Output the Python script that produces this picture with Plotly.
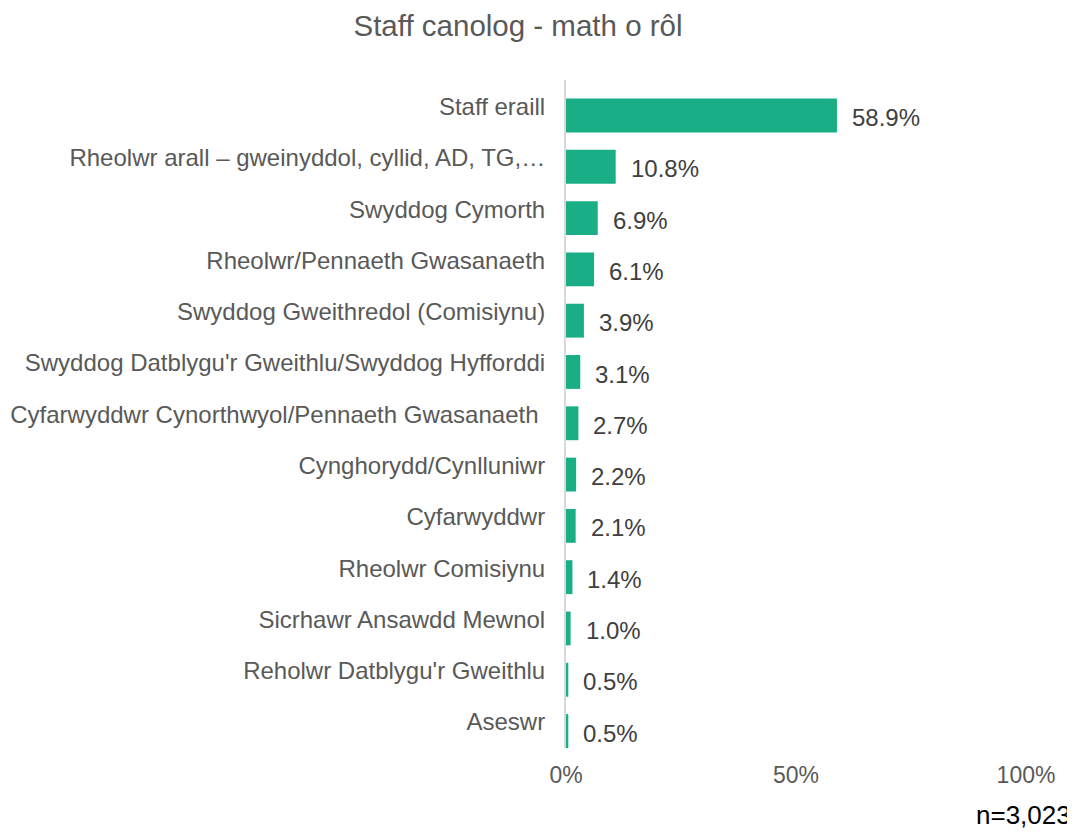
import plotly.graph_objects as go

categories = [
    "Staff eraill",
    "Rheolwr arall – gweinyddol, cyllid, AD, TG,…",
    "Swyddog Cymorth",
    "Rheolwr/Pennaeth Gwasanaeth",
    "Swyddog Gweithredol (Comisiynu)",
    "Swyddog Datblygu'r Gweithlu/Swyddog Hyfforddi",
    "Cyfarwyddwr Cynorthwyol/Pennaeth Gwasanaeth ",
    "Cynghorydd/Cynlluniwr",
    "Cyfarwyddwr",
    "Rheolwr Comisiynu",
    "Sicrhawr Ansawdd Mewnol",
    "Reholwr Datblygu'r Gweithlu",
    "Aseswr",
]
values = [58.9, 10.8, 6.9, 6.1, 3.9, 3.1, 2.7, 2.2, 2.1, 1.4, 1.0, 0.5, 0.5]
x_ticks = [0, 50, 100]
x_tick_labels = ["0%", "50%", "100%"]
title_text = "Staff canolog - math o rôl"
note_text = "n=3,023"

FONT = "Liberation Sans, Arial, sans-serif"
BAR = "#19AE85"

fig = go.Figure()
fig.add_trace(go.Bar(
    y=categories, x=values, orientation="h",
    marker=dict(color=BAR, line=dict(width=0)),
    width=0.66, offset=-0.155,
    hoverinfo="skip",
))

for c, v in zip(categories, values):
    fig.add_annotation(
        x=v, y=c, xref="x", yref="y", text=f"{v:.1f}%",
        showarrow=False, xanchor="left", yanchor="middle",
        xshift=13, yshift=-11,
        font=dict(family=FONT, size=24, color="#404040"),
    )

fig.add_annotation(
    x=1.0, y=0.0, xref="paper", yref="paper", xanchor="right", yanchor="bottom",
    text=note_text, showarrow=False,
    font=dict(family=FONT, size=26, color="#000000"),
    xshift=47, yshift=-84,
)

fig.update_layout(
    width=1067, height=826,
    margin=dict(l=558, r=49, t=72, b=86, autoexpand=False),
    paper_bgcolor="white", plot_bgcolor="white",
    showlegend=False,
    title=dict(text=title_text, x=0.478, xref="container", xanchor="center",
               y=0.978, yref="container", yanchor="middle",
               font=dict(family=FONT, size=29.5, color="#595959")),
    xaxis=dict(range=[0, 100], tickvals=x_ticks, ticktext=x_tick_labels,
               showgrid=False, zeroline=False, showline=False,
               ticklabelstandoff=11, automargin=False,
               tickfont=dict(family=FONT, size=23, color="#595959")),
    yaxis=dict(autorange="reversed", type="category",
               showline=True, linecolor="#D9D9D9", linewidth=2,
               showgrid=False, ticks="", ticklabelstandoff=14, automargin=False,
               tickfont=dict(family=FONT, size=24, color="#595959")),
)

fig.write_html("out.html")
